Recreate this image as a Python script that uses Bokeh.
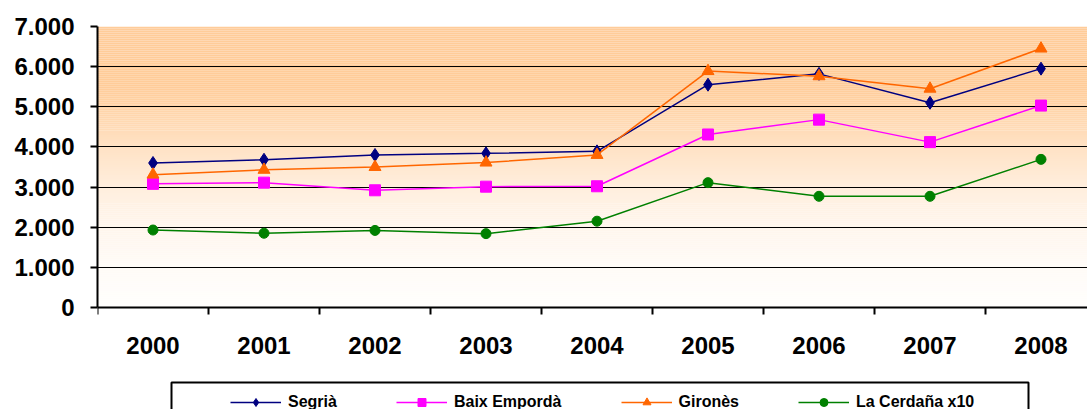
from bokeh.plotting import figure
from bokeh.models import FixedTicker, Legend, LegendItem, BoxAnnotation, Range1d
from bokeh.embed import file_html
from bokeh.resources import INLINE
import numpy as np

# ---- data ----
years = ["2000", "2001", "2002", "2003", "2004", "2005", "2006", "2007", "2008"]
segria = [3600, 3680, 3800, 3840, 3890, 5550, 5820, 5100, 5950]
baix_emporda = [3080, 3110, 2920, 3010, 3020, 4310, 4680, 4120, 5030]
girones = [3310, 3430, 3500, 3610, 3800, 5890, 5760, 5450, 6450]
cerdanya_x10 = [1930, 1850, 1920, 1840, 2150, 3110, 2770, 2770, 3690]
series_names = ["Segrià", "Baix Empordà", "Gironès", "La Cerdaña x10"]
y_ticks = [0, 1000, 2000, 3000, 4000, 5000, 6000, 7000]

FONT = "Liberation Sans"
W, H = 1087, 409
LEFT, TOP = 97, 26          # frame left / top in px
ZERO_PX = 307               # px row of value 0
step = 111.0                # px per category
frame_w = W - LEFT
frame_h = H - TOP
ymax = y_ticks[-1]
per_px = ymax / (ZERO_PX - TOP)
ymin = -(H - ZERO_PX) * per_px
x = list(range(len(years)))
x0 = -0.5

def px_x(px):
    return x0 + (px - LEFT) / step

def px_y(py):
    return (ZERO_PX - py) * per_px

p = figure(width=W, height=H, output_backend="svg", toolbar_location=None,
           x_range=Range1d(x0, x0 + frame_w / step), y_range=Range1d(ymin, ymax),
           min_border_left=LEFT, min_border_right=0, min_border_top=TOP, min_border_bottom=0,
           background_fill_color="white", border_fill_color="white")
p.outline_line_color = None

# gradient background (decoration)
edges = np.linspace(0, ymax, 141)
mid = (edges[:-1] + edges[1:]) / 2
f = np.interp(mid, [0, 1000, 2000, 3000, 4000, 5000, 5500, 7000],
              [0.03, 0.08, 0.18, 0.33, 0.57, 0.86, 1.0, 1.0])
top_rgb = np.array([255, 204, 153])
cols = []
for fi in f:
    c = 255 - (255 - top_rgb) * fi
    cols.append("#%02x%02x%02x" % tuple(int(round(v)) for v in c))
bands = p.quad(left=-1, right=10, bottom=edges[:-1], top=edges[1:], fill_color=cols,
               line_color=None)
bands.level = "image"

# axes
p.xaxis.fixed_location = 0
p.xaxis.ticker = FixedTicker(ticks=x, minor_ticks=[i - 0.5 for i in range(len(years) + 1)])
p.xaxis.major_label_overrides = {i: yv for i, yv in enumerate(years)}
p.xaxis.major_tick_line_color = None
p.xaxis.major_tick_out = 7
p.xaxis.major_tick_in = 0
p.xaxis.minor_tick_out = 7
p.xaxis.minor_tick_in = 0
p.xaxis.minor_tick_line_color = "black"
p.xaxis.minor_tick_line_width = 2
p.xaxis.major_label_standoff = 22

p.yaxis.bounds = (0, ymax)
p.yaxis.ticker = FixedTicker(ticks=y_ticks)
p.yaxis.major_label_overrides = {v: f"{v:,}".replace(",", ".") for v in y_ticks}
p.yaxis.major_tick_out = 7
p.yaxis.major_tick_in = 0
p.yaxis.major_label_standoff = 16
p.yaxis.minor_tick_line_color = None

for ax in (p.xaxis, p.yaxis):
    ax.axis_line_color = "black"
    ax.axis_line_width = 2
    ax.major_tick_line_width = 2
    ax.major_label_text_font = FONT
    ax.major_label_text_font_size = "24px"
    ax.major_label_text_font_style = "bold"
    ax.major_label_text_color = "black"

p.xgrid.visible = False
p.ygrid.ticker = FixedTicker(ticks=y_ticks[1:-1])
p.ygrid.grid_line_color = "black"
p.ygrid.grid_line_width = 1
p.ygrid.grid_line_alpha = 1

# series
specs = [
    (segria, "#000080", "diamond", 13),
    (baix_emporda, "#ff00ff", "square", 11),
    (girones, "#ff6600", "triangle", 12),
    (cerdanya_x10, "#008000", "circle", 10),
]
items = []
for name, (vals, col, mk, sz) in zip(series_names, specs):
    lr = p.line(x, vals, line_color=col, line_width=1.5)
    sr = p.scatter(x, vals, marker=mk, size=sz, fill_color=col, line_color=col)
    items.append(LegendItem(label=name, renderers=[lr, sr]))

# legend (inside the frame area below the axis)
legend_top_px = 382
legend = Legend(items=items, orientation="horizontal",
                location=(220 - LEFT, (H - legend_top_px) - 40),
                glyph_width=51, glyph_height=20, label_standoff=7, spacing=59, padding=10,
                margin=0, border_line_alpha=0, background_fill_alpha=0,
                label_text_font=FONT, label_text_font_size="16px",
                label_text_font_style="bold", label_text_color="black")
p.add_layout(legend)

box = BoxAnnotation(left=px_x(171), right=px_x(1028), top=px_y(legend_top_px), bottom=px_y(H + 20),
                    fill_alpha=0, line_color="black", line_width=2, line_alpha=1)
p.add_layout(box)

open("out.html", "w").write(file_html(p, INLINE))
